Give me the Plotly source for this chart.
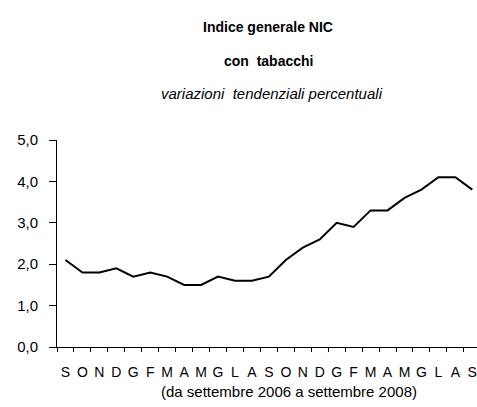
import plotly.graph_objects as go

months = ["S", "O", "N", "D", "G", "F", "M", "A", "M", "G", "L", "A",
          "S", "O", "N", "D", "G", "F", "M", "A", "M", "G", "L", "A", "S"]
values = [2.1, 1.8, 1.8, 1.9, 1.7, 1.8, 1.7, 1.5, 1.5, 1.7, 1.6, 1.6,
          1.7, 2.1, 2.4, 2.6, 3.0, 2.9, 3.3, 3.3, 3.6, 3.8, 4.1, 4.1, 3.8]
y_ticks = [0, 1, 2, 3, 4, 5]
y_tick_text = ["0,0", "1,0", "2,0", "3,0", "4,0", "5,0"]

title1 = "Indice generale NIC"
title2 = "con  tabacchi"
subtitle = "variazioni  tendenziali percentuali"
xlabel = "(da settembre 2006 a settembre 2008)"

x = list(range(len(values)))

W, H = 477, 407
ml, mr, mt, mb = 57, 0, 140, 60
pw, ph = W - ml - mr, H - mt - mb
step = 16.95

def px(xp):
    return (xp - ml) / pw

def py(yp):
    return (H - mb - yp) / ph

fig = go.Figure()
fig.add_trace(go.Scatter(x=x, y=values, mode="lines",
                         line=dict(color="black", width=2),
                         hoverinfo="skip", showlegend=False))

font_main = "Liberation Sans, Arial, sans-serif"

def ann(text, xp, yp, size, family=font_main):
    return dict(text=text, x=px(xp), y=py(yp), xref="paper", yref="paper",
                xanchor="center", yanchor="middle", showarrow=False,
                font=dict(family=family, size=size, color="black"))

fig.update_layout(
    width=W, height=H,
    margin=dict(l=ml, r=mr, t=mt, b=mb),
    paper_bgcolor="white", plot_bgcolor="white",
    font=dict(family=font_main, color="black", size=15),
    xaxis=dict(
        range=[-0.5, -0.5 + pw / step],
        tickmode="array", tickvals=x, ticktext=months,
        ticks="", showgrid=False, zeroline=False,
        showline=True, linecolor="black", linewidth=1,
        tickfont=dict(size=14), ticklabelstandoff=12,
        ticklabeloverflow="allow",
        minor=dict(tickmode="array", tickvals=[i - 0.5 for i in range(len(values) + 1)],
                   ticks="outside", ticklen=4, tickcolor="black", tickwidth=1,
                   showgrid=False),
    ),
    yaxis=dict(
        range=[0, 5],
        tickmode="array", tickvals=y_ticks, ticktext=y_tick_text,
        ticks="outside", ticklen=7, tickcolor="black",
        showgrid=False, zeroline=False,
        showline=True, linecolor="black", linewidth=1,
        tickfont=dict(size=15), ticklabelstandoff=8,
    ),
    annotations=[
        ann("<b>" + title1 + "</b>", 268, 27, 14),
        ann("<b>" + title2 + "</b>", 268, 61, 14),
        ann("<i>" + subtitle + "</i>", 272, 93, 15),
        ann(xlabel, 289, 391, 15),
    ],
)

fig.write_html("out.html", config={"displayModeBar": False},
               post_script="document.body.style.margin='0';document.body.style.overflow='hidden';")
